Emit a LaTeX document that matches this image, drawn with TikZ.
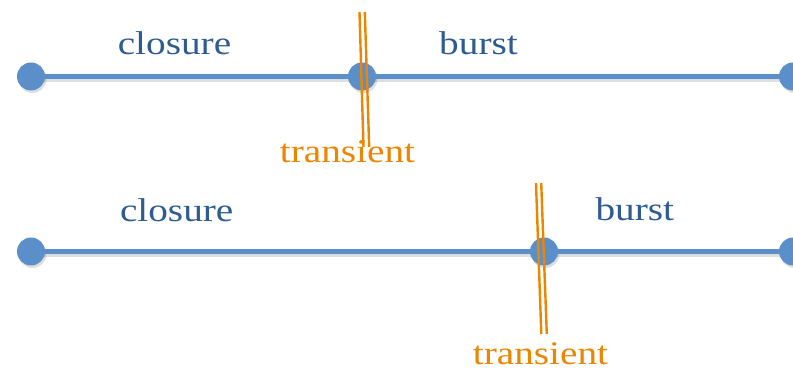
\documentclass[tikz,border=0pt]{standalone}
\usepackage{fontspec}
\setmainfont{Liberation Serif}[FakeStretch=1.19]
\usetikzlibrary{backgrounds}
\definecolor{lineblue}{RGB}{91,143,201}
\definecolor{textblue}{RGB}{46,92,146}
\definecolor{orng}{RGB}{236,133,0}
\tikzset{
  dot/.style={circle,fill=lineblue,inner sep=0pt,minimum size=28pt},
  dotshadow/.style={circle,fill=black,opacity=0.13,inner sep=0pt,minimum size=28pt},
  timeline/.style={draw=lineblue,line width=5.5pt},
  lineshadow/.style={draw=black,opacity=0.13,line width=5.5pt},
  cut/.style={draw=orng,line width=2.4pt},
  lbl/.style={text=textblue,font=\fontsize{33}{38}\selectfont,anchor=base,inner sep=0pt},
  tlbl/.style={text=orng,font=\fontsize{33}{38}\selectfont,anchor=base,inner sep=0pt}
}
\begin{document}
\begin{tikzpicture}[x=1pt,y=-1pt]
\useasboundingbox (0,0) rectangle (793,371);
\clip (0,0) rectangle (793,371);
% top timeline
\node[dot] (a1) at (31,76.5) {};
\node[dot] (a2) at (362,76.5) {};
\node[dot] (a3) at (793,76.5) {};
% bottom timeline
\node[dot] (b1) at (31,251.5) {};
\node[dot] (b2) at (544,251.5) {};
\node[dot] (b3) at (793,251.5) {};
\begin{scope}[on background layer]
  \foreach \n in {a1,a2,a3,b1,b2,b3}
    \node[dotshadow] at ([shift={(1.5,2.5)}]\n) {};
  \draw[lineshadow] ([shift={(0,2.5)}]a1.center) -- ([shift={(0,2.5)}]a3.center);
  \draw[lineshadow] ([shift={(0,2.5)}]b1.center) -- ([shift={(0,2.5)}]b3.center);
  \draw[timeline] (a1) -- (a2);
  \draw[timeline] (a2) -- (a3);
  \draw[timeline] (b1) -- (b2);
  \draw[timeline] (b2) -- (b3);
\end{scope}
% labels
\node[lbl] (c1) at (174.5,55) {closure};
\node[lbl] (u1) at (478.5,54.5) {burst};
\node[tlbl] (t1) at (347.5,163) {transient};
\node[lbl] (c2) at (176.7,221.5) {closure};
\node[lbl] (u2) at (634.8,220.5) {burst};
\node[tlbl] (t2) at (540.5,365) {transient};
% transient cuts
\coordinate (p1) at (359.5,12);
\coordinate (q1) at (363.5,147);
\coordinate (p2) at (364.8,12);
\coordinate (q2) at (369.2,147);
\coordinate (r1) at (536,183);
\coordinate (s1) at (541.3,334);
\coordinate (r2) at (541.2,183);
\coordinate (s2) at (546.8,334);
\draw[cut] (p1) -- (q1);
\draw[cut] (p2) -- (q2);
\draw[cut] (r1) -- (s1);
\draw[cut] (r2) -- (s2);
\end{tikzpicture}
\end{document}
